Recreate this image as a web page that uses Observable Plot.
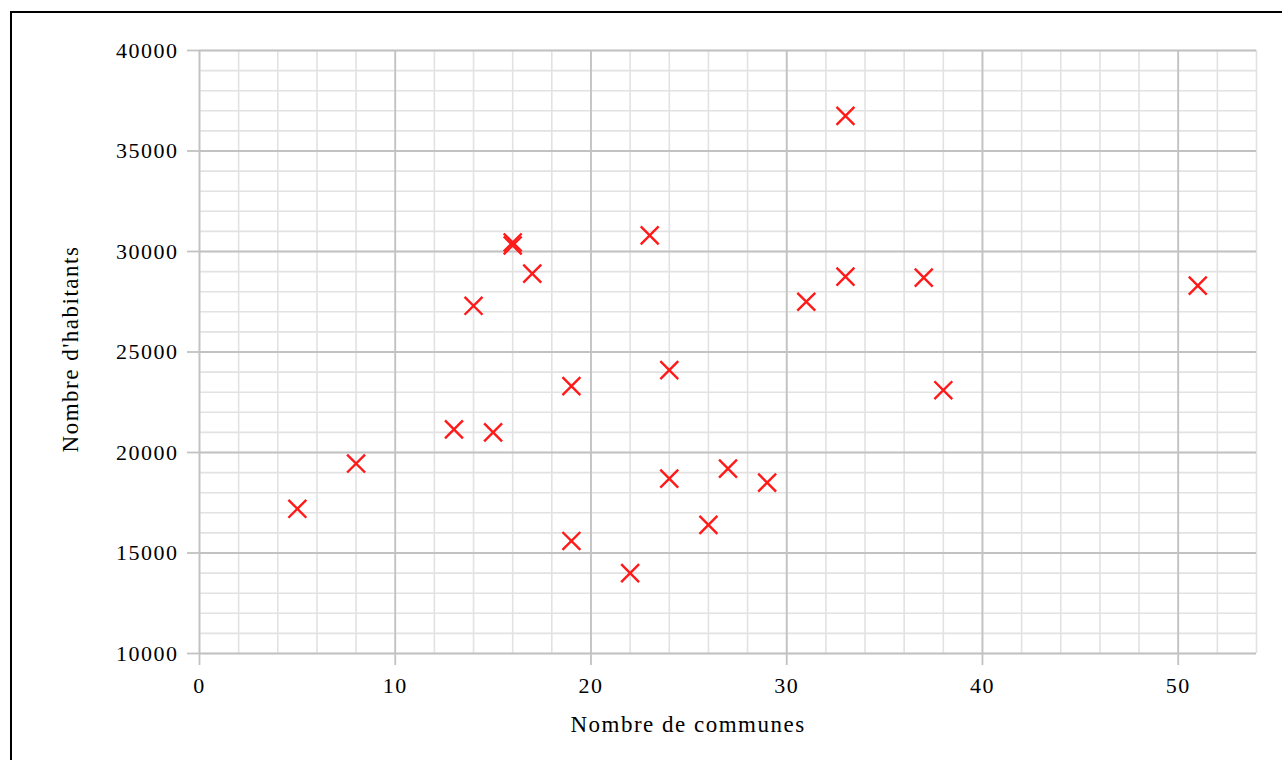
<!DOCTYPE html>
<html>
<head>
<meta charset="utf-8">
<script src="https://cdn.jsdelivr.net/npm/d3@7"></script>
<script src="https://cdn.jsdelivr.net/npm/@observablehq/plot@0.6"></script>
<style>
  html, body { margin: 0; padding: 0; background: #fff; overflow: hidden; }
  #wrap { position: relative; width: 1282px; height: 760px; }
  #frame { position: absolute; left: 10px; top: 11px; width: 1400px; height: 900px;
           border-left: 2px solid #000; border-top: 2px solid #000; pointer-events: none; }
</style>
</head>
<body>
<div id="wrap"><div id="frame"></div></div>
<script>
// Data
const communes  = [5, 8, 13, 14, 15, 16, 16, 17, 19, 19, 22, 23, 24, 24, 26, 27, 29, 31, 33, 33, 37, 38, 51];
const habitants = [17200, 19450, 21150, 27300, 21000, 30450, 30300, 28900, 23300, 15600, 14000, 30800, 24100, 18700, 16400, 19200, 18500, 27500, 36750, 28750, 28700, 23100, 28300];

const xMajor = [0, 10, 20, 30, 40, 50];
const xMinor = d3.range(0, 56, 2);
const yMajor = [10000, 15000, 20000, 25000, 30000, 35000, 40000];
const yMinor = d3.range(10000, 40001, 1000);

const xLabel = "Nombre de communes";
const yLabel = "Nombre d'habitants";

const data = communes.map((c, i) => ({c, h: habitants[i]}));

const gridMinor = "#e2e2e2";
const gridMajor = "#c2c2c2";

const chart = Plot.plot({
  width: 1282,
  height: 760,
  marginLeft: 199,
  marginRight: 26,
  marginTop: 50,
  marginBottom: 107,
  style: {fontFamily: "'Liberation Serif', 'Times New Roman', serif", fontSize: "22px", letterSpacing: "1.5px", color: "#000", background: "#fff"},
  x: {domain: [0, 54]},
  y: {domain: [10000, 40000]},
  marks: [
    Plot.ruleX(xMinor, {stroke: gridMinor, strokeWidth: 1.6}),
    Plot.ruleY(yMinor, {stroke: gridMinor, strokeWidth: 1.6}),
    Plot.ruleX(xMajor, {stroke: gridMajor, strokeWidth: 1.8}),
    Plot.ruleY(yMajor, {stroke: gridMajor, strokeWidth: 1.8}),
    Plot.axisX({ticks: xMajor, tickSize: 12, tickPadding: 12, strokeWidth: 1.8, tickFormat: d => String(d), label: null, fill: "#000", stroke: gridMajor}),
    Plot.axisY({ticks: yMajor, tickSize: 12, tickPadding: 9, stroke: gridMajor, strokeWidth: 1.8, tickFormat: d => String(d), label: null}),
    Plot.dot(data, {x: "c", y: "h", symbol: "times", r: 8.2, stroke: "#ff1a1a", strokeWidth: 2.4}),
    Plot.text([xLabel], {frameAnchor: "bottom", text: d => d, dx: -40, dy: 71, textAnchor: "middle", lineAnchor: "middle", fontSize: 23, fill: "#000"}),
    Plot.text([yLabel], {frameAnchor: "left", text: d => d, dx: -129, dy: -3, rotate: -90, textAnchor: "middle", lineAnchor: "middle", fontSize: 23, fill: "#000"})
  ]
});
document.getElementById("wrap").insertBefore(chart, document.getElementById("frame"));
</script>
</body>
</html>
